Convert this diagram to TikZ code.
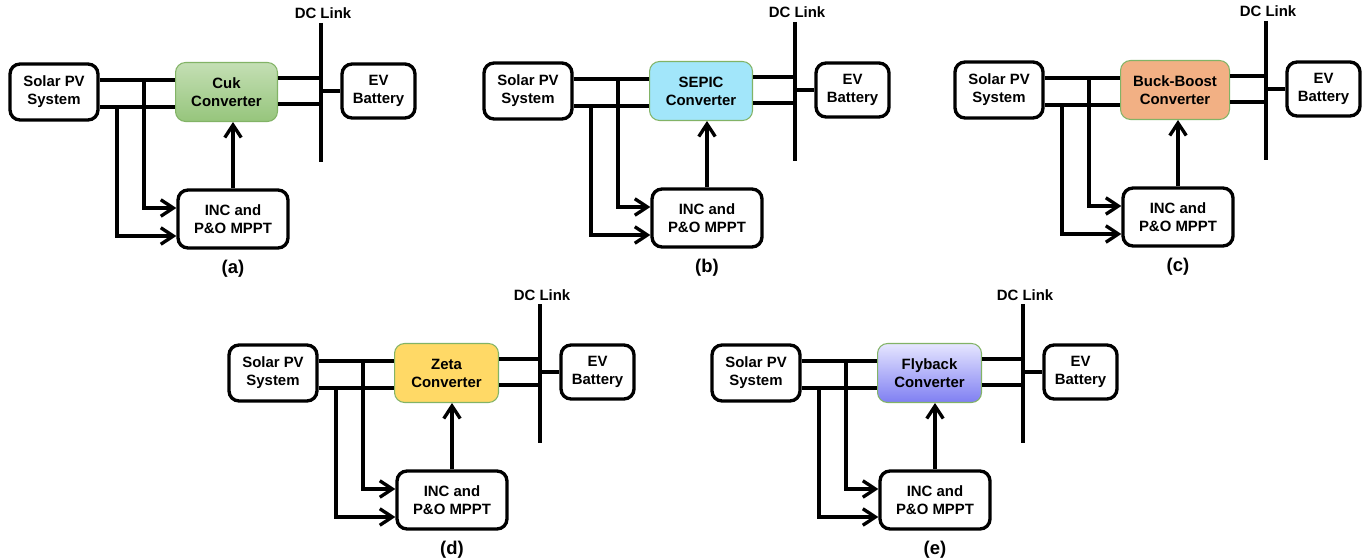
\documentclass[tikz,border=0pt]{standalone}
\usepackage{fontspec}
\setmainfont{Liberation Sans}
\usetikzlibrary{arrows.meta,positioning}

\definecolor{cukTop}{HTML}{C4DFB4}
\definecolor{cukBot}{HTML}{96C57C}
\definecolor{sepicFill}{HTML}{A2E6FA}
\definecolor{bbFill}{HTML}{F2B084}
\definecolor{zetaFill}{HTML}{FFD966}
\definecolor{flyTop}{HTML}{E6E6FF}
\definecolor{flyBot}{HTML}{7F7FF2}
\definecolor{convEdge}{HTML}{82B366}

\tikzset{
	txt/.style={font=\bfseries\fontsize{8.5}{10.2}\selectfont, align=center},
	block/.style={txt, draw, line width=1.9pt, rounded corners=0.2cm, inner sep=0pt},
	conv/.style={txt, draw=convEdge, line width=0.6pt, rounded corners=0.2cm, inner sep=0pt,
		minimum height=1.18cm, anchor=west},
	wire/.style={line width=1.9pt},
	feed/.style={wire, -{Straight Barb[length=2.5mm,width=3.3mm]}},
}

\begin{document}
\begin{tikzpicture}[x=0.02cm, y=-0.02cm]
	\useasboundingbox (0,0) rectangle (1371,560);
	
	% one panel per converter: base / id / name / shading / width
	\foreach \bx/\by/\id/\name/\ct/\cb/\w in {
		8/62/a/Cuk/cukTop/cukBot/2.04cm,
		482/61/b/SEPIC/sepicFill/sepicFill/2.06cm,
		953/60/c/Buck-Boost/bbFill/bbFill/2.18cm,
		227/343/d/Zeta/zetaFill/zetaFill/2.08cm,
		710/343/e/Flyback/flyTop/flyBot/2.08cm}{
	\begin{scope}[shift={(\bx,\by)}]
		\node[block, minimum width=1.76cm, minimum height=1.12cm] (pv\id) at (46,30) {Solar PV\\System};
		\node[conv, minimum width=\w, top color=\ct, bottom color=\cb] (conv\id) at (167,30) {\name\\Converter};
		\node[block, minimum width=1.46cm, minimum height=1.08cm] (ev\id) at (370.5,29) {EV\\Battery};
		\node[block, minimum width=2.2cm, minimum height=1.16cm] (mppt\id) at (225,157) {INC and\\P\&O MPPT};
		
		\coordinate (bustop\id) at (313,-39);
		\coordinate (busbot\id) at (313,100);
		\coordinate (hi\id) at (0,18);
		\coordinate (lo\id) at (0,45);
		\coordinate (chi\id) at (0,16);
		\coordinate (clo\id) at (0,42);
		\coordinate (tapa\id) at (136,18);
		\coordinate (tapb\id) at (109,45);
		\coordinate (ma\id) at (0,146);
		\coordinate (mb\id) at (0,174);
		
		\node[txt, inner sep=0pt, above=0.07cm of bustop\id, xshift=0.04cm] (dc\id) {DC Link};
		\node[font=\bfseries\fontsize{10.5}{12}\selectfont, inner sep=0pt, below=0.2cm of mppt\id] (lab\id) {(\id)};
		
		\draw[wire] (bustop\id) -- (busbot\id);
		\draw[wire] (pv\id.east |- hi\id) -- (conv\id.west |- hi\id);
		\draw[wire] (pv\id.east |- lo\id) -- (conv\id.west |- lo\id);
		\draw[wire] (conv\id.east |- chi\id) -- (bustop\id |- chi\id);
		\draw[wire] (conv\id.east |- clo\id) -- (bustop\id |- clo\id);
		\draw[wire] (bustop\id |- ev\id.west) -- (ev\id.west);
		
		\draw[feed] (tapa\id) |- (mppt\id.west |- ma\id);
		\draw[feed] (tapb\id) |- (mppt\id.west |- mb\id);
		\draw[feed] (mppt\id.north) -- (mppt\id.north |- conv\id.south);
	\end{scope}
	}
\end{tikzpicture}
\end{document}
